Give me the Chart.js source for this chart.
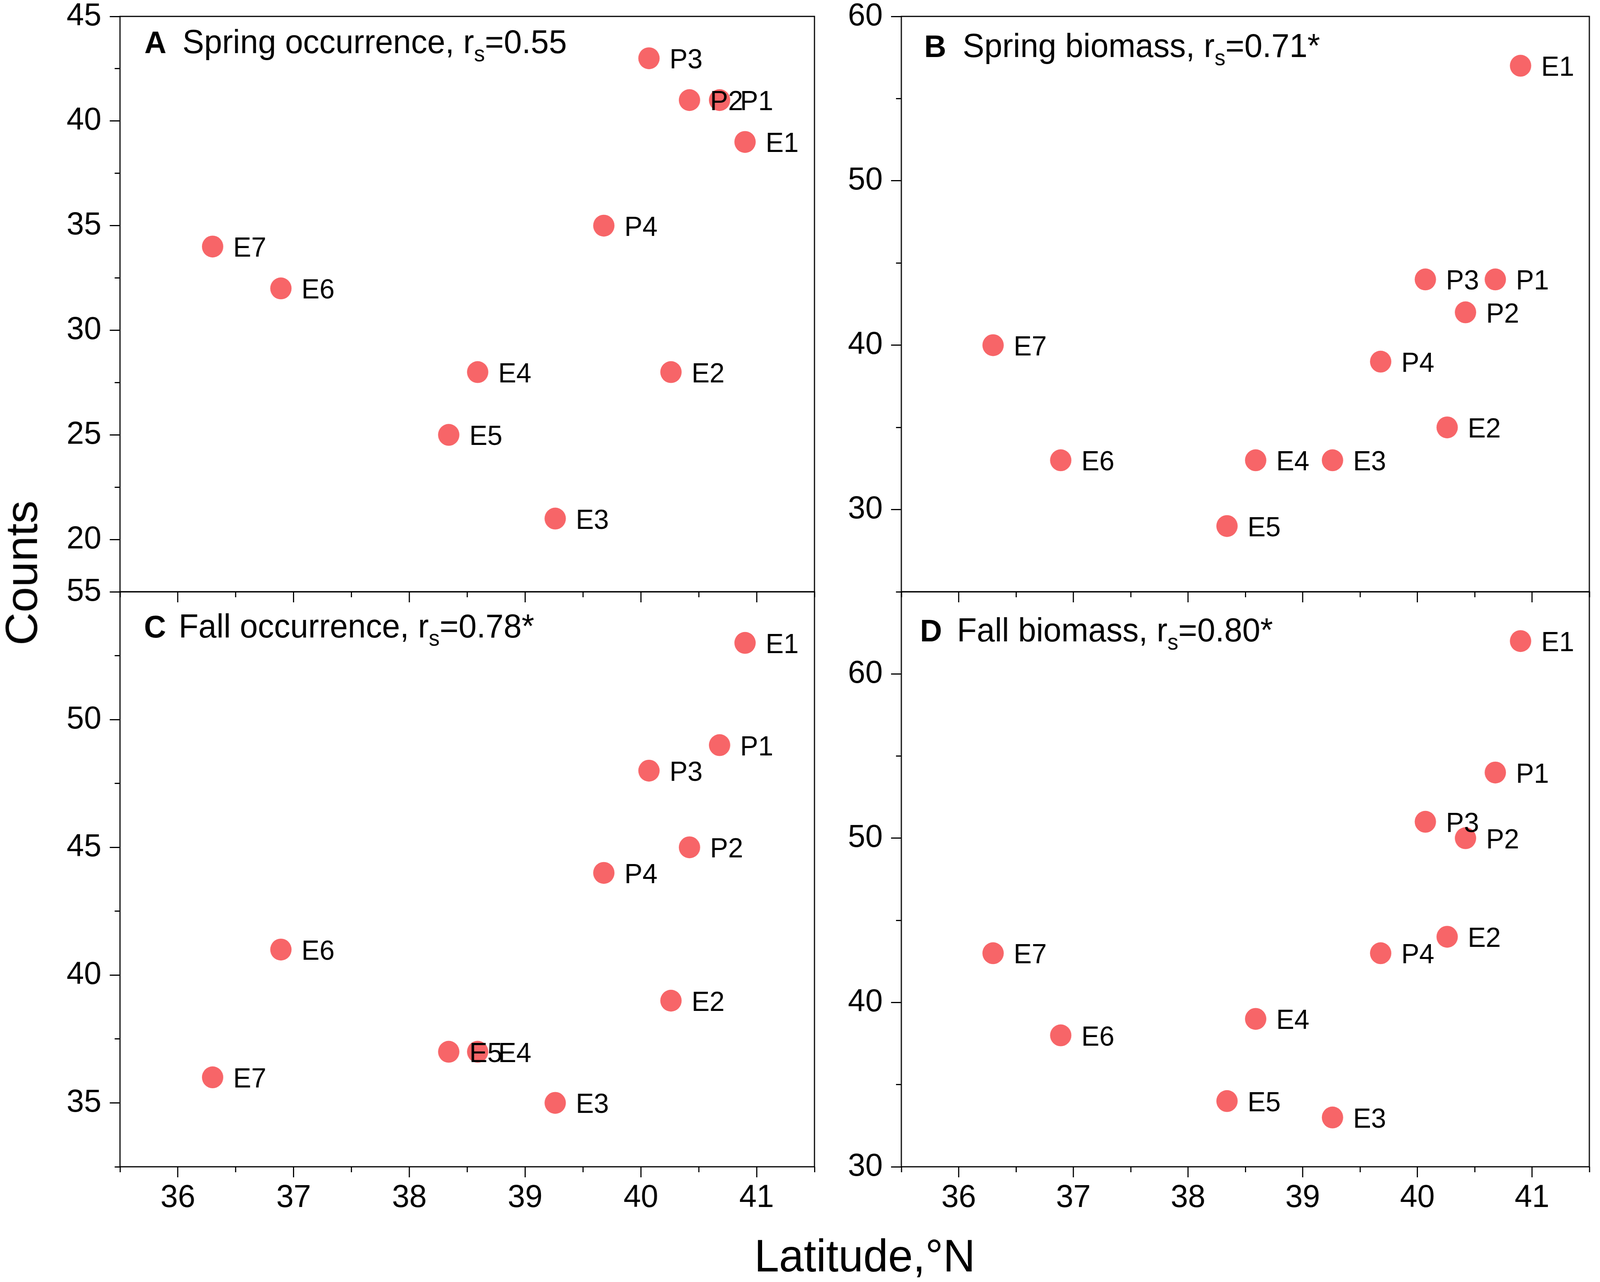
<!DOCTYPE html>
<html>
<head>
<meta charset="utf-8">
<script src="https://cdn.jsdelivr.net/npm/chart.js@4.4.1/dist/chart.umd.min.js"></script>
<style>
html, body { margin: 0; padding: 0; background: #ffffff; overflow: hidden; }
#stage { position: absolute; left: 0; top: 0; width: 4200px; height: 3282px; transform-origin: 0 0; }
canvas { position: absolute; }
.axtitle { position: absolute; font-family: 'Liberation Sans', Arial, sans-serif; color: #000; white-space: nowrap; line-height: 1; font-size: 117px; }
</style>
</head>
<body>
<div id="stage">
<canvas id="cA" width="2250" height="1600" style="left:0px;top:0px;width:2250px;height:1600px"></canvas>
<canvas id="cB" width="2050" height="1600" style="left:2150px;top:0px;width:2050px;height:1600px"></canvas>
<canvas id="cC" width="2250" height="1832" style="left:0px;top:1450px;width:2250px;height:1832px"></canvas>
<canvas id="cD" width="2050" height="1832" style="left:2150px;top:1450px;width:2050px;height:1832px"></canvas>
<div class="axtitle" style="left:57px;top:1467px;transform:translate(-50%,-50%) rotate(-90deg);">Counts</div>
<div class="axtitle" style="left:2270px;top:3156px;transform:translateX(-50%);">Latitude,°N</div>
</div>
<script>
// ---------------- data ----------------
const stations = ['E1', 'E2', 'E3', 'E4', 'E5', 'E6', 'E7', 'P1', 'P2', 'P3', 'P4'];
const latitude = [40.90, 40.26, 39.26, 38.59, 38.34, 36.89, 36.30, 40.68, 40.42, 40.07, 39.68];
const springOccurrence = [39, 28, 21, 28, 25, 32, 34, 41, 41, 43, 35];
const springBiomass = [57, 35, 33, 33, 29, 33, 40, 44, 42, 44, 39];
const fallOccurrence = [53, 39, 35, 37, 37, 41, 36, 49, 45, 48, 44];
const fallBiomass = [62, 44, 33, 39, 34, 38, 43, 54, 50, 51, 43];

const panelLetters = ['A', 'B', 'C', 'D'];
const panelTitles = ['Spring occurrence, r', 'Spring biomass, r', 'Fall occurrence, r', 'Fall biomass, r'];
const panelSubscript = 's';
const panelStats = ['=0.55', '=0.71*', '=0.78*', '=0.80*'];

const xTickLabels = [36, 37, 38, 39, 40, 41];
const yTickLabelsA = [20, 25, 30, 35, 40, 45];
const yTickLabelsB = [30, 40, 50, 60];
const yTickLabelsC = [35, 40, 45, 50, 55];
const yTickLabelsD = [30, 40, 50, 60];

// ---------------- fit the 4200x3282 layout to the actual viewport ----------------
(function () {
  const w = window.innerWidth, h = window.innerHeight;
  const sx = w / 4200, sy = h / 3282;
  if (sx > 0 && sy > 0 && (Math.abs(sx - 1) > 0.001 || Math.abs(sy - 1) > 0.001)) {
    document.getElementById('stage').style.transform = 'scale(' + sx + ',' + sy + ')';
  }
})();

// ---------------- styling ----------------
const FONT = "'Liberation Sans', Arial, sans-serif";
const MARKER = 'rgb(247,101,104)';

function isIn(v, list) { return list.some(t => Math.abs(t - v) < 1e-6); }

function makeChart(id, idx, values, yLabels, cfg) {
  const decor = {
    id: 'decor' + idx,
    afterDatasetsDraw(chart) {
      const ctx = chart.ctx;
      const a = chart.chartArea;
      const meta = chart.getDatasetMeta(0);
      ctx.save();
      ctx.fillStyle = '#000';
      ctx.textAlign = 'left';
      ctx.textBaseline = 'alphabetic';
      // station labels, drawn on top of all markers
      ctx.font = '71px ' + FONT;
      meta.data.forEach((pt, i) => { ctx.fillText(stations[i], pt.x + 54, pt.y + 26); });
      // frame
      ctx.lineWidth = 3;
      ctx.strokeStyle = '#000';
      ctx.strokeRect(a.left, a.top, a.right - a.left, a.bottom - a.top);
      // panel title
      const y = a.top + cfg.dy;
      ctx.font = 'bold 80px ' + FONT;
      ctx.fillText(panelLetters[idx], a.left + cfg.dxLetter, y);
      let x = a.left + cfg.dxText;
      ctx.font = '85px ' + FONT;
      ctx.fillText(panelTitles[idx], x, y);
      x += ctx.measureText(panelTitles[idx]).width;
      ctx.font = '57px ' + FONT;
      ctx.fillText(panelSubscript, x, y + 21);
      x += ctx.measureText(panelSubscript).width;
      ctx.font = '85px ' + FONT;
      ctx.fillText(panelStats[idx], x, y);
      ctx.restore();
    }
  };
  return new Chart(document.getElementById(id), {
    type: 'scatter',
    data: {
      datasets: [{
        data: latitude.map((lat, i) => ({ x: lat, y: values[i] })),
        backgroundColor: MARKER,
        borderWidth: 0,
        pointRadius: 28,
        pointHoverRadius: 28,
        pointStyle: 'circle'
      }]
    },
    options: {
      responsive: false,
      animation: false,
      devicePixelRatio: 1,
      events: [],
      layout: { padding: cfg.padding },
      plugins: { legend: { display: false }, tooltip: { enabled: false }, title: { display: false } },
      scales: {
        x: {
          type: 'linear', position: 'bottom', min: 35.5, max: 41.5,
          border: { display: false },
          grid: {
            drawOnChartArea: false, drawTicks: true, tickLength: 27,
            color: '#000', lineWidth: 3, tickWidth: 3, tickColor: '#000',
            tickBorderDash: ctx => (ctx.tick && !isIn(ctx.tick.value, xTickLabels)) ? [14, 1000] : []
          },
          ticks: {
            stepSize: 0.5, autoSkip: false, maxRotation: 0, minRotation: 0, padding: 4,
            color: '#000', font: { family: FONT, size: 82 },
            callback: v => (cfg.showX && isIn(v, xTickLabels)) ? String(v) : ''
          },
          afterFit: s => { s.height = cfg.xHeight; s.paddingLeft = 0; s.paddingRight = 0; s.paddingTop = 0; s.paddingBottom = 0; }
        },
        y: {
          type: 'linear', position: 'left', min: cfg.ymin, max: cfg.ymax,
          border: { display: false },
          grid: {
            drawOnChartArea: false, drawTicks: true, tickLength: 27,
            color: '#000', lineWidth: 3, tickWidth: 3, tickColor: '#000',
            tickBorderDash: ctx => (ctx.tick && !isIn(ctx.tick.value, yLabels)) ? [0, 13, 14, 1000] : []
          },
          ticks: {
            stepSize: cfg.ystep, autoSkip: false, padding: 22,
            color: '#000', font: { family: FONT, size: 82 },
            callback: v => isIn(v, yLabels) ? String(v) : ''
          },
          afterFit: s => { s.width = cfg.yWidth; s.paddingLeft = 0; s.paddingRight = 0; s.paddingTop = 0; s.paddingBottom = 0; }
        }
      }
    },
    plugins: [decor]
  });
}

makeChart('cA', 0, springOccurrence, yTickLabelsA, {
  padding: { left: 0, top: 42, right: 112, bottom: 0 }, yWidth: 315, xHeight: 85, showX: false,
  ymin: 17.5, ymax: 45, ystep: 2.5, dxLetter: 64, dxText: 164, dy: 94
});
makeChart('cB', 1, springBiomass, yTickLabelsB, {
  padding: { left: 0, top: 42, right: 11, bottom: 0 }, yWidth: 216, xHeight: 85, showX: false,
  ymin: 25, ymax: 60, ystep: 5, dxLetter: 60, dxText: 161, dy: 104
});
makeChart('cC', 2, fallOccurrence, yTickLabelsC, {
  padding: { left: 0, top: 65, right: 112, bottom: 0 }, yWidth: 315, xHeight: 295, showX: true,
  ymin: 32.5, ymax: 55, ystep: 2.5, dxLetter: 63, dxText: 154, dy: 117
});
makeChart('cD', 3, fallBiomass, yTickLabelsD, {
  padding: { left: 0, top: 65, right: 11, bottom: 0 }, yWidth: 216, xHeight: 295, showX: true,
  ymin: 30, ymax: 65, ystep: 5, dxLetter: 49, dxText: 146, dy: 127
});
</script>
</body>
</html>
